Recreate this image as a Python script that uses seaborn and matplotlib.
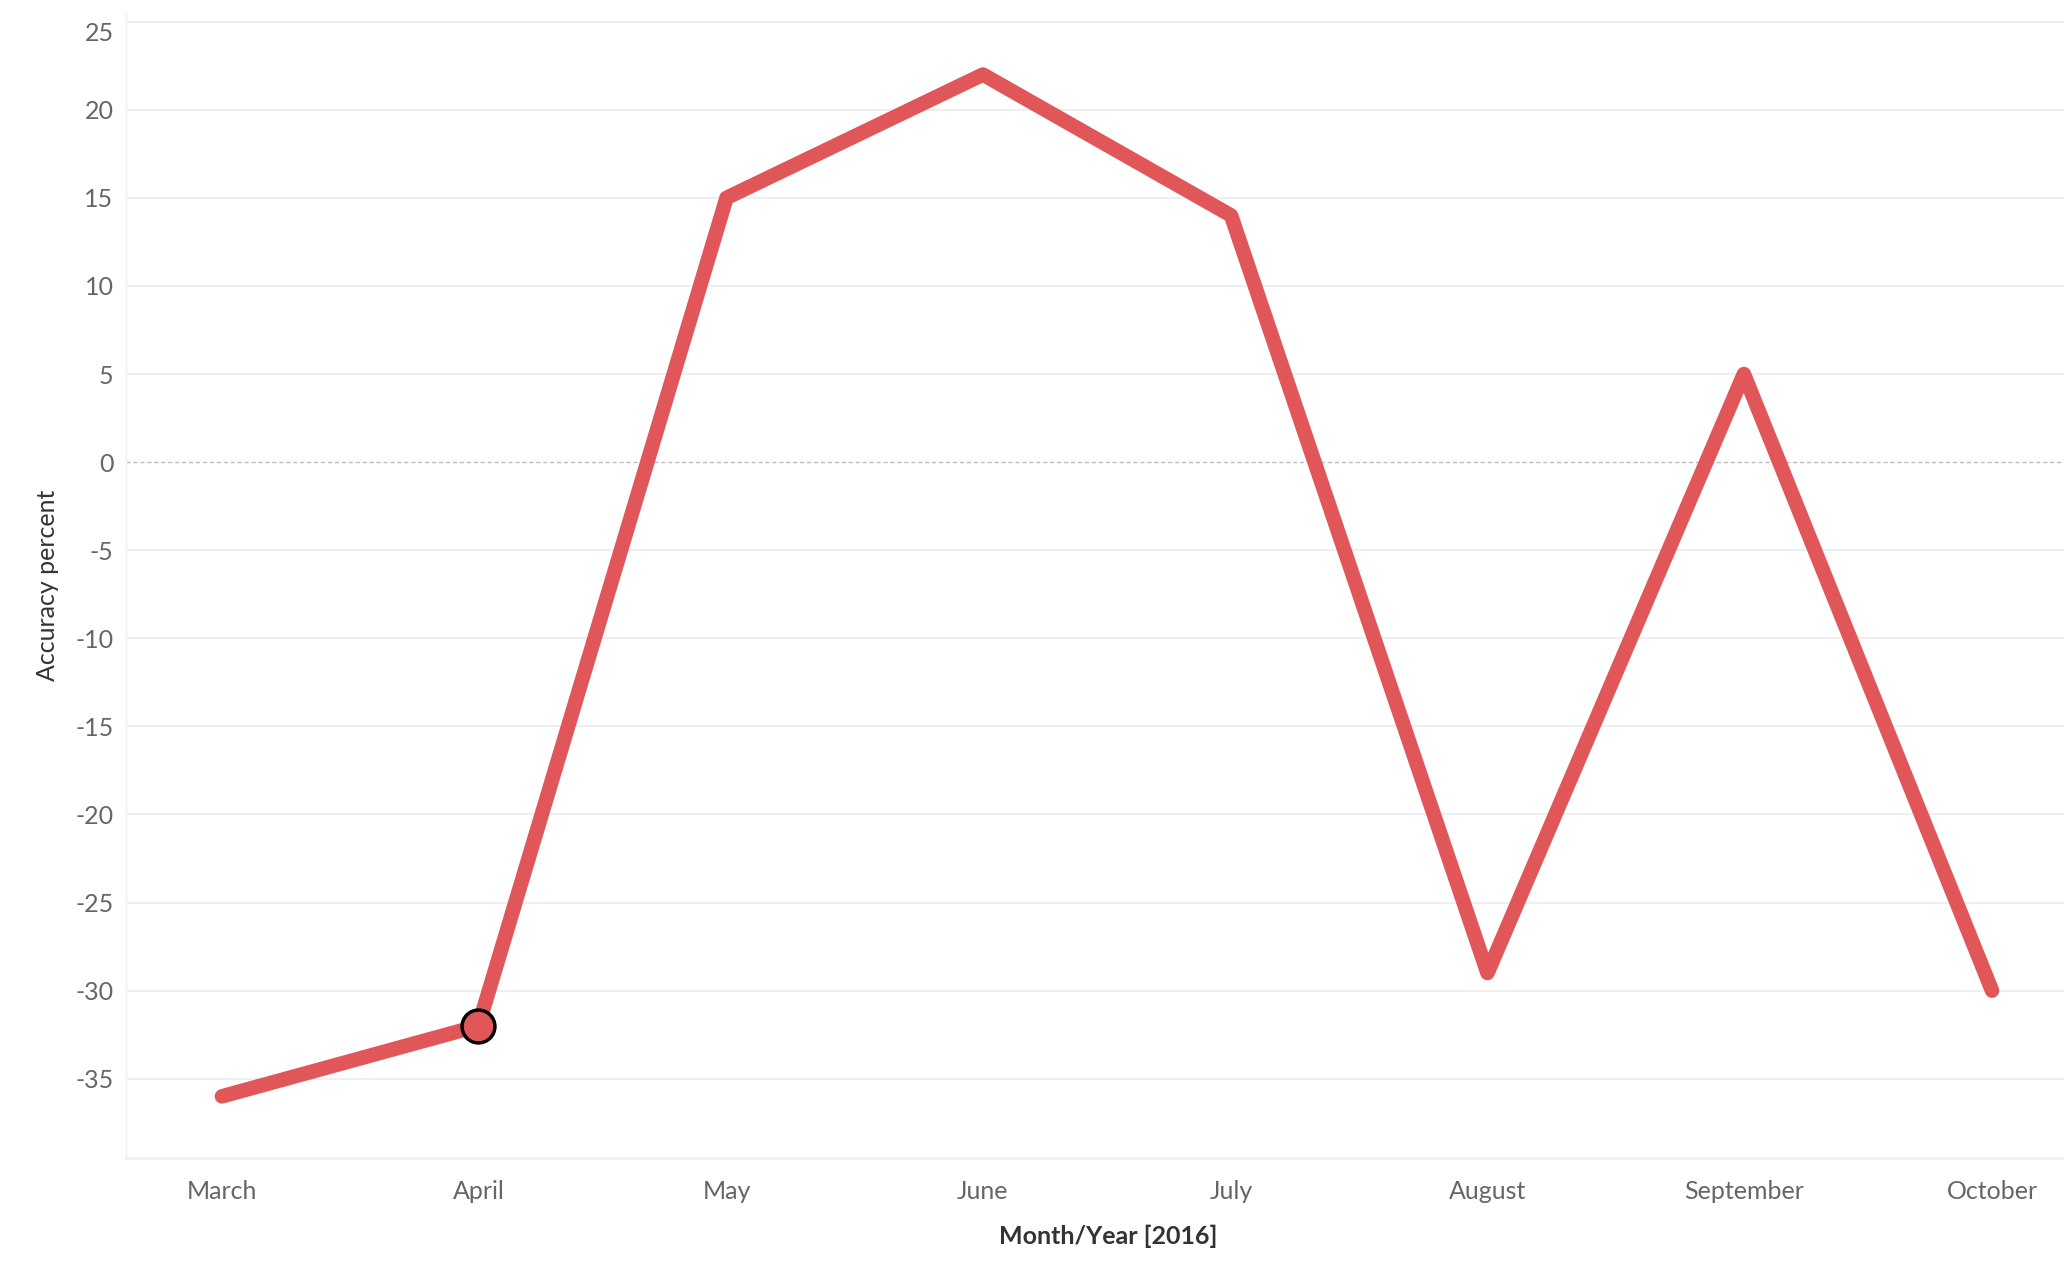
'''Accuracy percent by month, 2016'''

# import libraries
import pandas as pd
import seaborn as sns
import matplotlib.pyplot as plt
import matplotlib.dates as mdates

# data
month_starts = ['2016-03-01', '2016-04-01', '2016-05-01', '2016-06-01',
                '2016-07-01', '2016-08-01', '2016-09-01', '2016-10-01']
accuracy = [-36, -32, 15, 22, 14, -29, 5, -30]
y_ticks = [-35, -30, -25, -20, -15, -10, -5, 0, 5, 10, 15, 20, 25]
highlight = 1  # April has the circle marker

df = pd.DataFrame({'month': pd.to_datetime(month_starts), 'accuracy': accuracy})

sns.set_style("white")
plt.rcParams['font.family'] = ['Lato', 'DejaVu Sans']

grid_col = '#efefef'
tick_col = '#666666'
red = '#e15759'

fig = plt.figure(figsize=(20.64, 12.74), dpi=100)
ax = fig.add_axes([126 / 2064, 1 - 1158 / 1274, 1 - 126 / 2064, (1158 - 12) / 1274])

# grid lines behind the line
for t in y_ticks:
    if t == 0:
        ax.axhline(t, color='#bdbdbd', lw=1.0, ls=(0, (3, 2)), zorder=1)
    else:
        ax.axhline(t, color=grid_col, lw=1.5, zorder=1)

sns.lineplot(data=df, x='month', y='accuracy', ax=ax, color=red, lw=10.5,
             solid_capstyle='round', solid_joinstyle='round', zorder=3)
sns.scatterplot(x=[df['month'][highlight]], y=[df['accuracy'][highlight]], ax=ax,
                s=560, color=red, edgecolor='black', linewidth=2.5, zorder=4)

# axes limits
first = df['month'].iloc[0]
last = df['month'].iloc[-1]
ax.set_xlim(first - pd.Timedelta(days=11.6), last + pd.Timedelta(days=8.7))
ax.set_ylim(-39.5, 25.55)

ax.set_yticks(y_ticks)
ax.set_yticklabels([str(t) for t in y_ticks])
ax.xaxis.set_major_locator(mdates.MonthLocator(bymonth=range(3, 11)))
ax.xaxis.set_major_formatter(mdates.DateFormatter('%B'))

ax.tick_params(axis='y', length=7, width=1.5, color=grid_col, pad=2,
               labelsize=18, labelcolor=tick_col)
ax.tick_params(axis='x', length=7, width=1.0, color='#e6e6e6', pad=9,
               labelsize=18, labelcolor=tick_col)
# top label sits inside the plot area
ax.get_yticklabels()[-1].set_verticalalignment('top')

for side in ['top', 'right']:
    ax.spines[side].set_visible(False)
ax.spines['left'].set_color(grid_col)
ax.spines['left'].set_linewidth(1.0)
ax.spines['bottom'].set_color(grid_col)
ax.spines['bottom'].set_linewidth(2.0)

ax.set_ylabel('Accuracy percent', fontsize=18, color='#333333', labelpad=12)
ax.set_xlabel('Month/Year [2016]', fontsize=18, color='#333333',
              fontweight='bold', labelpad=16)
ax.xaxis.set_label_coords(0.507, -0.058)

plt.savefig("out.png", dpi=100)
